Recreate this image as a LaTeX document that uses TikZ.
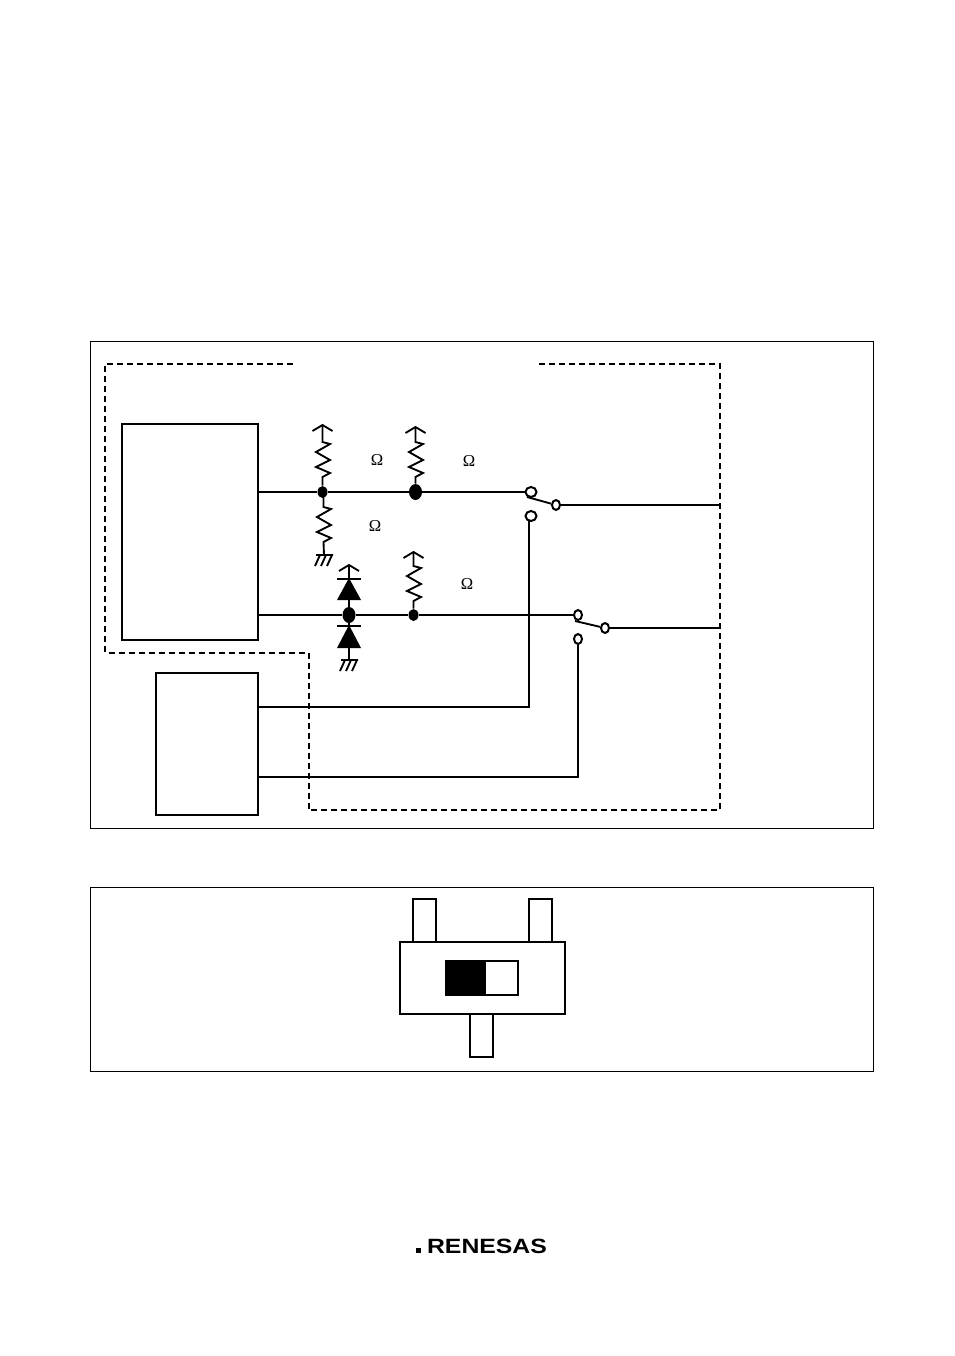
\documentclass[tikz,border=0pt]{standalone}
\usepackage{fontspec}
\setmainfont{Liberation Serif}
\newfontfamily\logofont{Liberation Sans}
\usetikzlibrary{shapes.geometric}
\newlength{\pxu}
\setlength{\pxu}{0.75pt}
\tikzset{panel/.style = {shape=rectangle,draw,line width=0.85pt,inner sep=0pt,anchor=north west}}
\tikzset{block/.style = {shape=rectangle,draw,line width=1.5pt,inner sep=0pt,anchor=north west}}
\tikzset{wire/.style = {line width=1.5pt}}
\tikzset{thin wire/.style = {line width=1.4pt}}
\tikzset{bound/.style = {line width=1.5pt,dash pattern=on 4.5pt off 3pt}}
\tikzset{dot/.style = {shape=ellipse,fill=black,inner sep=0pt}}
\tikzset{contact/.style = {shape=ellipse,draw,fill=white,line width=1.5pt,inner sep=0pt}}
\tikzset{ohm/.style = {font=\fontsize{12.5}{13}\selectfont,inner sep=0pt}}
% zigzag drawn downwards from the current point
\newcommand{\zigzag}{-- ++(7.5,2) -- ++(-14,8) -- ++(14,8) -- ++(-14,7) -- ++(14,6) -- ++(-7.5,4)}
\newcommand{\supply}[1]{\draw[thin wire] (#1) ++(-10,6) -- (#1) -- ++(10,6);}
\newcommand{\earth}[1]{\draw[thin wire] (#1) ++(-8,0) -- ++(17,0) (#1) ++(-4,0) -- ++(-5,11) (#1) ++(2,0) -- ++(-5,11) (#1) ++(8,0) -- ++(-5,11);}
\begin{document}
\begin{tikzpicture}[x=\pxu,y=-\pxu]
                \useasboundingbox (0,0) rectangle (954,1356);
                \node[panel,minimum width=783\pxu,minimum height=487\pxu] (top) at (89.7,340.7) {};
                \node[panel,minimum width=783\pxu,minimum height=184\pxu] (bottom) at (89.7,886.7) {};
                \draw[bound] (293,363.5) -- (105.3,363.5) -- (105.3,652.5) -- (308.5,652.5) -- (308.5,810) -- (720,810) -- (720,363.5) -- (539,363.5);
                \node[block,minimum width=136\pxu,minimum height=216\pxu] (mcu) at (121.2,423.2) {};
                \node[block,minimum width=102\pxu,minimum height=142\pxu] (writer) at (155.2,672.2) {};
                \coordinate (mcuA) at (258,492);
                \coordinate (mcuB) at (258,615);
                \coordinate (writerA) at (258,707);
                \coordinate (writerB) at (258,777);
                \node[dot,minimum width=10\pxu,minimum height=12\pxu] (j1) at (322.5,492) {};
                \node[dot,minimum width=13\pxu,minimum height=16\pxu] (j2) at (415.5,492) {};
                \node[dot,minimum width=13\pxu,minimum height=16\pxu] (j3) at (349,615) {};
                \node[dot,minimum width=10\pxu,minimum height=12\pxu] (j4) at (413.5,615) {};
                \node[contact,minimum width=11\pxu,minimum height=10\pxu] (sw1a) at (531,492) {};
                \node[contact,minimum width=11\pxu,minimum height=10\pxu] (sw1b) at (531,516) {};
                \node[contact,minimum width=8\pxu,minimum height=10\pxu] (sw1c) at (556,505) {};
                \node[contact,minimum width=8\pxu,minimum height=10\pxu] (sw2a) at (578,615) {};
                \node[contact,minimum width=8\pxu,minimum height=10\pxu] (sw2b) at (578,639) {};
                \node[contact,minimum width=8\pxu,minimum height=10\pxu] (sw2c) at (605,628) {};
                \coordinate (out1) at (720,505);
                \coordinate (out2) at (720,628);
                \coordinate (tap1) at (529,521);
                \draw[wire] (mcuA) -- (j1) -- (j2) -- (sw1a);
                \draw[wire] (mcuB) -- (j3) -- (j4) -- (sw2a);
                \draw[wire] (sw1c) -- (out1);
                \draw[wire] (sw2c) -- (out2);
                \draw[wire] (writerA) -| (tap1);
                \draw[wire] (writerB) -| (sw2b);
                \coordinate (arm1) at (527,497);
                \coordinate (arm2) at (575,621);
                \draw[thin wire] (arm1) -- (sw1c);
                \draw[thin wire] (arm2) -- (sw2c);
                \coordinate (vcc1) at (322.5,425);
                \coordinate (vcc2) at (415.5,427);
                \coordinate (vcc3) at (349,565);
                \coordinate (vcc4) at (413.5,552);
                \coordinate (gnd1) at (324,555);
                \coordinate (gnd2) at (349,660);
                \supply{vcc1}
                \supply{vcc2}
                \supply{vcc3}
                \supply{vcc4}
                \earth{gnd1}
                \earth{gnd2}
                \draw[thin wire] (vcc1) -- ++(0,17) \zigzag -- (j1);
                \draw[thin wire] (vcc2) -- ++(0,15) \zigzag -- (j2);
                \draw[thin wire] (vcc4) -- ++(0,14) \zigzag -- (j4);
                \draw[thin wire] (j1) ++(1,3) -- ++(0,12) \zigzag -- (gnd1);
                \draw[wire] (vcc3) -- (j3);
                \draw[wire] (j3) -- (gnd2);
                \fill (349,578) -- (361,600) -- (337,600) -- cycle;
                \draw[wire] (337,579) -- (361,579);
                \fill (349,625) -- (361,648) -- (337,648) -- cycle;
                \draw[wire] (337,626) -- (361,626);
                \node[ohm] (r1) at (377,460) {Ω};
                \node[ohm] (r2) at (469,461) {Ω};
                \node[ohm] (r3) at (375,526) {Ω};
                \node[ohm] (r4) at (467,584) {Ω};
                \node[block,minimum width=23\pxu,minimum height=43\pxu] (pinA) at (412.2,898.2) {};
                \node[block,minimum width=23\pxu,minimum height=43\pxu] (pinB) at (528.2,898.2) {};
                \node[block,minimum width=165\pxu,minimum height=72\pxu] (body) at (399.2,941.2) {};
                \node[block,minimum width=23\pxu,minimum height=43\pxu] (pinC) at (469.2,1013.2) {};
                \node[block,minimum width=72\pxu,minimum height=34\pxu] (slot) at (445.2,960.2) {};
                \node[block,fill=black,minimum width=39\pxu,minimum height=34\pxu] (knob) at (445.2,960.2) {};
                \node[inner sep=0pt,font=\logofont\bfseries\fontsize{15.5}{16}\selectfont] (logo) at (487,1246) {\scalebox{1.2}[1]{RENESAS}};
                \node[fill=black,inner sep=0pt,minimum width=5\pxu,minimum height=5\pxu] (logodot) at (418,1250) {};
            \end{tikzpicture}
\end{document}
